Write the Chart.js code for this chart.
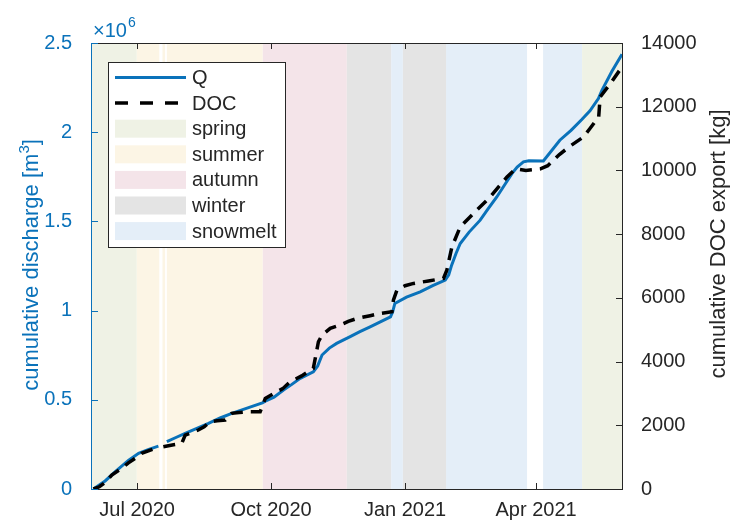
<!DOCTYPE html>
<html>
<head>
<meta charset="utf-8">
<script src="https://cdn.jsdelivr.net/npm/chart.js@4.4.1/dist/chart.umd.min.js"></script>
<style>
  html, body { margin: 0; padding: 0; background: #fff; }
  #wrap { width: 731px; height: 522px; }
</style>
</head>
<body>
<div id="wrap"><canvas id="cumulative" width="731" height="522"></canvas></div>
<script>
// x values are days since 1 Jun 2020
const tickDays = [30, 122, 214, 304];
const tickLabels = ['Jul 2020', 'Oct 2020', 'Jan 2021', 'Apr 2021'];

// cumulative discharge Q [m3]
const qDay = [0, 8, 15, 24, 31, 38, 44.6, 46, 50.4, 57, 63, 71, 79, 87, 95, 105, 116, 118, 124, 130.5,
  136, 142, 151, 154, 157, 162, 167, 176, 183, 190, 197, 204, 205.5, 207, 215, 224.4, 233, 241.6,
  244, 246, 249, 251.9, 258, 265.6, 271, 277, 282, 287.4, 291, 295.3, 299, 309, 320.3, 328, 335.4,
  341, 346.8, 349.2, 356, 363];
const qVolume = [0, 45000, 97000, 160000, 200000, 222000, 240000, null, 265000, 290000, 312000,
  340000, 368000, 398000, 424000, 452000, 483000, 492000, 515000, 555000, 585000, 620000, 657000,
  690000, 751000, 790000, 816000, 853000, 882000, 909000, 937000, 965000, 993000, 1040000, 1075000,
  1105000, 1140000, 1171000, 1200000, 1255000, 1320000, 1376000, 1440000, 1507000, 1570000,
  1637000, 1700000, 1768000, 1805000, 1834000, 1840000, 1839000, 1955000, 2010000, 2071000,
  2120000, 2189000, 2235000, 2340000, 2437000];

// cumulative DOC export [kg]
const docDay = [0, 4, 8, 12.6, 19.5, 24, 28.6, 33, 42.4, 46, 48, 55, 60.7, 63, 67, 72, 76, 80, 85,
  90.5, 95, 100, 106, 114.5, 116, 118, 124, 130, 135, 143, 151, 154.5, 157, 162.6, 169.4, 175, 181,
  190, 197, 205, 206, 208.4, 214, 219.8, 230, 240.4, 242.7, 246.2, 251.9, 261, 272.5, 284, 290,
  297, 307, 312, 320, 327, 336.5, 341, 347, 348, 355, 363];
const docExport = [0, 70, 200, 440, 650, 820, 963, 1120, 1277, null, 1327, 1390, 1434, 1694, 1760,
  1851, 1950, 2111, 2140, 2164, 2375, 2400, 2425, 2425, 2600, 2845, 3002, 3150, 3366, 3550, 3786,
  4621, 4831, 5041, 5145, 5260, 5355, 5440, 5512, 5562, 5929, 6243, 6380, 6453, 6530, 6610, 6870,
  7600, 8228, 8649, 9170, 9797, 10050, 10000, 10050, 10150, 10500, 10750, 11052, 11315, 11679,
  12307, 12727, 13248];

// season shading
const seasonNames = ['spring', 'summer', 'autumn', 'winter', 'snowmelt'];
const seasonColors = ['#eff2e5', '#fcf5e5', '#f4e4e9', '#e4e4e4', '#e4eef8'];
const bandStart = [-1, 29.8, 47.4, 50.4, 116.3, 174, 204.5, 212.5, 242.2, 308.8, 335.6];
const bandEnd = [29.8, 45.2, 49.2, 116.3, 174, 204.5, 212.5, 242.2, 297.8, 335.6, 363];
const bandSeason = [0, 1, 1, 1, 2, 3, 4, 3, 4, 4, 0];

const blue = '#0a72ba';
const dark = '#262626';
const fontFamily = '"Liberation Sans", Arial, sans-serif';
Chart.defaults.font.family = fontFamily;

const qPoints = qDay.map((d, i) => ({ x: d, y: qVolume[i] }));
const docPoints = docDay.map((d, i) => ({ x: d, y: docExport[i] }));

const seasonPlugin = {
  id: 'seasons',
  beforeDatasetsDraw(chart) {
    const { ctx, chartArea: a, scales: { x } } = chart;
    ctx.save();
    bandStart.forEach((s, i) => {
      const x0 = x.getPixelForValue(s);
      const x1 = x.getPixelForValue(bandEnd[i]);
      ctx.fillStyle = seasonColors[bandSeason[i]];
      ctx.fillRect(x0, a.top, x1 - x0, a.bottom - a.top);
    });
    ctx.restore();
  }
};

function drawLegend(ctx) {
  const left = 108, top = 62, w = 177, h = 185;
  ctx.fillStyle = '#fff';
  ctx.fillRect(left, top, w, h);
  ctx.strokeStyle = dark;
  ctx.lineWidth = 1;
  ctx.strokeRect(left + 0.5, top + 0.5, w, h);
  const labels = ['Q', 'DOC'].concat(seasonNames);
  ctx.font = '20px ' + fontFamily;
  ctx.textBaseline = 'middle';
  ctx.textAlign = 'left';
  labels.forEach((lab, i) => {
    const y = 77.5 + i * 25.6;
    if (i === 0) {
      ctx.strokeStyle = blue; ctx.lineWidth = 3; ctx.setLineDash([]);
      ctx.beginPath(); ctx.moveTo(115, y); ctx.lineTo(186, y); ctx.stroke();
    } else if (i === 1) {
      ctx.strokeStyle = '#000'; ctx.lineWidth = 3.5; ctx.setLineDash([13, 12]);
      ctx.beginPath(); ctx.moveTo(115, y); ctx.lineTo(186, y); ctx.stroke();
      ctx.setLineDash([]);
    } else {
      ctx.fillStyle = seasonColors[i - 2];
      ctx.fillRect(115, y - 9, 71, 18);
    }
    ctx.fillStyle = dark;
    ctx.fillText(lab, 192, y + 1);
  });
}

const framePlugin = {
  id: 'frame',
  afterDatasetsDraw(chart) {
    const { ctx, chartArea: a, scales } = chart;
    ctx.save();
    ctx.lineWidth = 1;
    // inward tick marks and box
    ctx.strokeStyle = dark;
    ctx.beginPath();
    scales.x.ticks.forEach(t => {
      const px = Math.round(scales.x.getPixelForValue(t.value)) + 0.5;
      ctx.moveTo(px, a.bottom); ctx.lineTo(px, a.bottom - 6);
      ctx.moveTo(px, a.top); ctx.lineTo(px, a.top + 6);
    });
    scales.y1.ticks.forEach(t => {
      const py = Math.round(scales.y1.getPixelForValue(t.value)) + 0.5;
      ctx.moveTo(a.right, py); ctx.lineTo(a.right - 6, py);
    });
    ctx.moveTo(a.left, a.top + 0.5); ctx.lineTo(a.right, a.top + 0.5);
    ctx.moveTo(a.left, a.bottom + 0.5); ctx.lineTo(a.right, a.bottom + 0.5);
    ctx.moveTo(a.right + 0.5, a.top); ctx.lineTo(a.right + 0.5, a.bottom + 1);
    ctx.stroke();
    ctx.strokeStyle = blue;
    ctx.beginPath();
    scales.y.ticks.forEach(t => {
      const py = Math.round(scales.y.getPixelForValue(t.value)) + 0.5;
      ctx.moveTo(a.left, py); ctx.lineTo(a.left + 6, py);
    });
    ctx.moveTo(a.left - 0.5, a.top); ctx.lineTo(a.left - 0.5, a.bottom + 1);
    ctx.stroke();

    drawLegend(ctx);
    ctx.restore();
  },
  afterDraw(chart) {
    const ctx = chart.ctx;
    ctx.save();
    // x10^6 exponent label
    ctx.fillStyle = blue;
    ctx.textAlign = 'left';
    ctx.textBaseline = 'alphabetic';
    ctx.font = '20px ' + fontFamily;
    ctx.fillText('\u00d710', 93, 37);
    const w = ctx.measureText('\u00d710').width;
    ctx.font = '14px ' + fontFamily;
    ctx.fillText('6', 93 + w + 1, 27);

    // left axis title with superscript
    ctx.translate(38, 265);
    ctx.rotate(-Math.PI / 2);
    ctx.font = '22px ' + fontFamily;
    const main = 'cumulative discharge [m';
    const wMain = ctx.measureText(main).width;
    ctx.font = '15px ' + fontFamily;
    const wSup = ctx.measureText('3').width;
    ctx.font = '22px ' + fontFamily;
    const wEnd = ctx.measureText(']').width;
    let x0 = -(wMain + wSup + wEnd) / 2;
    ctx.fillText(main, x0, 0);
    ctx.font = '15px ' + fontFamily;
    ctx.fillText('3', x0 + wMain, -9);
    ctx.font = '22px ' + fontFamily;
    ctx.fillText(']', x0 + wMain + wSup, 0);
    ctx.restore();

    // right axis title, reading bottom to top
    ctx.save();
    ctx.fillStyle = dark;
    ctx.font = '22px ' + fontFamily;
    ctx.textAlign = 'center';
    ctx.textBaseline = 'alphabetic';
    ctx.translate(725, 244);
    ctx.rotate(-Math.PI / 2);
    ctx.fillText('cumulative DOC export [kg]', 0, 0);
    ctx.restore();
  }
};

new Chart(document.getElementById('cumulative'), {
  type: 'line',
  data: {
    datasets: [{
      label: 'DOC',
      data: docPoints,
      yAxisID: 'y1',
      borderColor: '#000',
      borderWidth: 3.5,
      borderDash: [12, 8],
      pointRadius: 0,
      tension: 0,
      spanGaps: false,
      order: 0
    }, {
      label: 'Q',
      data: qPoints,
      yAxisID: 'y',
      borderColor: blue,
      borderWidth: 3,
      pointRadius: 0,
      tension: 0,
      spanGaps: false,
      order: 1
    }]
  },
  options: {
    responsive: false,
    animation: false,
    layout: { padding: { top: 43, left: 0, right: 0, bottom: 0 } },
    plugins: {
      legend: { display: false },
      tooltip: { enabled: false }
    },
    scales: {
      x: {
        type: 'linear',
        min: -1,
        max: 363,
        afterBuildTicks: s => { s.ticks = tickDays.map(v => ({ value: v })); },
        afterFit: s => { s.height = 33; },
        grid: { display: false },
        border: { display: false },
        ticks: {
          autoSkip: false,
          maxRotation: 0,
          padding: 1,
          color: dark,
          font: { size: 20 },
          callback: (v, i) => tickLabels[i]
        }
      },
      y: {
        position: 'left',
        min: 0,
        max: 2500000,
        afterFit: s => { s.width = 92; },
        grid: { display: false },
        border: { display: false },
        ticks: {
          stepSize: 500000,
          padding: 12,
          color: blue,
          font: { size: 20 },
          callback: v => String(v / 1e6)
        }
      },
      y1: {
        position: 'right',
        min: 0,
        max: 14000,
        afterFit: s => { s.width = 109; },
        grid: { display: false },
        border: { display: false },
        ticks: {
          stepSize: 2000,
          padding: 11,
          color: dark,
          font: { size: 20 },
          callback: v => String(v)
        }
      }
    }
  },
  plugins: [seasonPlugin, framePlugin]
});
</script>
</body>
</html>
